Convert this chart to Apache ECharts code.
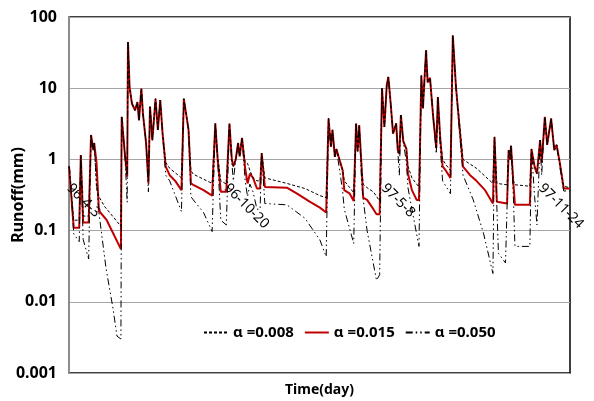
<!DOCTYPE html>
<html>
<head>
<meta charset="utf-8">
<script src="https://cdn.jsdelivr.net/npm/echarts@6/dist/echarts.min.js"></script>
<style>
  html, body { margin: 0; padding: 0; background: #fff; }
  #chart { width: 594px; height: 401px; }
</style>
</head>
<body>
<div id="chart"></div>
<script>
// day index counted from 1996-04-03
const dateLabels = ['96-4-3', '96-10-20', '97-5-8', '97-11-24']
const labelStep = 200
const lastDay = 637
const yTickLabels = ['0.001', '0.01', '0.1', '1', '10', '100']
const seriesNames = ['α =0.008', 'α =0.015', 'α =0.050']

// α = 0.008 (dashed)
const runoff008 = [
  [0, 0.8], [1, 0.75], [6, 0.14], [13, 0.14], [15, 1.15], [18, 0.16], [25, 0.16],
  [28, 2.2], [31, 1.35], [32, 1.7], [35, 0.4], [38, 0.3], [45, 0.22], [66, 0.115],
  [67, 3.95], [71, 1.2], [74, 0.6], [75, 44.6], [77, 10.4], [80, 6.1], [84, 4.9],
  [87, 6.4], [89, 3.55], [92, 9.9], [94, 4.4], [98, 1.7], [101, 0.5], [103, 5.5],
  [106, 1.86], [110, 7.1], [113, 2.6], [116, 6.8], [119, 2.3], [123, 0.9], [128, 0.75],
  [143, 0.55], [146, 7.1], [152, 2.6], [155, 0.7], [158, 0.62], [182, 0.46], [186, 3.2],
  [189, 1.1], [193, 0.5], [200, 0.45], [204, 3.2], [207, 1.0], [209, 0.8], [212, 1.0],
  [215, 1.7], [217, 1.1], [220, 2.0], [224, 0.9], [227, 0.88], [230, 0.7], [234, 0.55],
  [239, 0.5], [243, 0.5], [245, 1.22], [249, 0.55], [277, 0.46], [300, 0.39], [319, 0.31],
  [327, 0.29], [330, 3.75], [333, 1.5], [335, 2.6], [338, 1.09], [340, 1.4], [345, 0.9],
  [348, 0.7], [350, 0.5], [357, 0.4], [362, 0.34], [365, 3.2], [367, 1.3], [369, 3.0],
  [372, 0.79], [374, 0.45], [379, 0.4], [387, 0.35], [395, 0.26], [398, 9.9], [401, 2.86],
  [404, 11], [406, 14.4], [409, 6.1], [412, 2.3], [416, 3.2], [418, 1.35], [420, 1.2],
  [422, 4.2], [425, 1.8], [429, 1.4], [431, 0.8], [436, 0.55], [442, 0.45], [445, 0.41],
  [448, 15], [450, 5.2], [454, 34], [456, 12], [459, 14], [463, 4], [467, 1.44],
  [469, 7.5], [472, 2.0], [475, 1.0], [479, 0.85], [485, 0.7], [488, 55], [492, 10.4],
  [501, 1.0], [518, 0.75], [539, 0.46], [541, 2.07], [544, 0.46], [557, 0.44], [559, 1.35],
  [561, 1.0], [562, 1.55], [565, 0.5], [567, 0.44], [586, 0.42], [588, 1.4], [592, 0.79],
  [595, 0.63], [599, 1.86], [601, 0.9], [605, 3.95], [608, 1.6], [613, 3.75], [617, 1.35],
  [620, 1.6], [624, 0.9], [629, 0.42], [637, 0.4]
]

// α = 0.015 (red)
const runoff015 = [
  [0, 0.8], [1, 0.75], [6, 0.11], [13, 0.11], [15, 1.15], [18, 0.13], [25, 0.13],
  [28, 2.2], [31, 1.35], [32, 1.7], [35, 0.9], [38, 0.19], [48, 0.14], [66, 0.055],
  [67, 3.95], [71, 1.2], [74, 0.57], [75, 44.6], [77, 10.4], [80, 6.1], [84, 4.9],
  [87, 6.4], [89, 3.55], [92, 9.9], [94, 4.4], [98, 1.7], [101, 0.46], [103, 5.5],
  [106, 1.86], [110, 7.1], [113, 2.6], [116, 6.8], [119, 2.3], [123, 0.79], [128, 0.6],
  [135, 0.5], [143, 0.37], [146, 7.1], [152, 2.6], [155, 0.46], [158, 0.44], [171, 0.37],
  [182, 0.31], [186, 3.2], [189, 1.0], [193, 0.35], [200, 0.35], [204, 3.2], [207, 1.0],
  [209, 0.8], [212, 1.0], [215, 1.7], [217, 1.1], [220, 2.0], [224, 0.75], [227, 0.46],
  [230, 0.63], [234, 0.55], [239, 0.39], [243, 0.39], [245, 1.22], [249, 0.41], [277, 0.4],
  [290, 0.33], [306, 0.255], [319, 0.21], [327, 0.18], [330, 3.75], [333, 1.5], [335, 2.6],
  [338, 1.09], [340, 1.4], [345, 0.9], [348, 0.7], [350, 0.37], [357, 0.33], [362, 0.26],
  [365, 3.2], [367, 1.3], [369, 3.0], [372, 0.79], [374, 0.29], [379, 0.27], [387, 0.2],
  [391, 0.17], [395, 0.17], [398, 9.9], [401, 2.86], [404, 11], [406, 14.4], [409, 6.1],
  [412, 2.3], [416, 3.2], [418, 1.35], [420, 1.2], [422, 4.2], [425, 1.8], [429, 1.4],
  [431, 0.63], [436, 0.37], [442, 0.27], [445, 0.27], [448, 15], [450, 5.2], [454, 34],
  [456, 12], [459, 14], [463, 4], [467, 1.44], [469, 7.5], [472, 2.0], [475, 0.8],
  [479, 0.7], [485, 0.55], [488, 55], [492, 10.4], [501, 0.79], [510, 0.6], [518, 0.5],
  [529, 0.37], [539, 0.24], [541, 2.07], [544, 0.255], [557, 0.24], [559, 1.35], [561, 1.0],
  [562, 1.55], [565, 0.46], [567, 0.23], [586, 0.23], [588, 1.4], [592, 0.79], [595, 0.63],
  [599, 1.86], [601, 0.9], [605, 3.95], [608, 1.6], [613, 3.75], [617, 1.35], [620, 1.6],
  [624, 0.9], [629, 0.39], [637, 0.39]
]

// α = 0.050 (dash-dot)
const runoff050 = [
  [0, 0.8], [1, 0.7], [6, 0.09], [13, 0.07], [15, 1.15], [18, 0.075], [25, 0.04],
  [28, 2.2], [31, 1.35], [32, 1.7], [35, 0.5], [38, 0.18], [47, 0.03], [56, 0.008],
  [61, 0.0033], [66, 0.003], [67, 3.95], [71, 1.2], [74, 0.25], [75, 44.6], [77, 10.4],
  [80, 6.1], [84, 4.9], [87, 6.4], [89, 3.55], [92, 9.9], [94, 4.4], [98, 1.7],
  [101, 0.35], [103, 5.5], [106, 1.86], [110, 7.1], [113, 2.6], [116, 6.8], [119, 2.3],
  [123, 0.6], [128, 0.5], [143, 0.185], [146, 7.1], [152, 2.6], [155, 0.3], [158, 0.27],
  [171, 0.18], [182, 0.097], [186, 3.2], [189, 1.0], [193, 0.14], [200, 0.12], [204, 3.2],
  [207, 0.9], [209, 0.5], [212, 1.0], [215, 1.7], [217, 1.1], [220, 2.0], [224, 0.5],
  [227, 0.3], [230, 0.45], [234, 0.35], [239, 0.2], [243, 0.2], [245, 1.22], [249, 0.24],
  [277, 0.23], [300, 0.149], [319, 0.074], [327, 0.043], [330, 3.75], [333, 1.5], [335, 2.6],
  [338, 1.09], [340, 1.4], [345, 0.6], [348, 0.35], [350, 0.2], [362, 0.066], [365, 3.2],
  [367, 1.3], [369, 3.0], [372, 0.5], [374, 0.28], [379, 0.1], [391, 0.02], [395, 0.024],
  [398, 9.9], [401, 2.86], [404, 11], [406, 14.4], [409, 6.1], [412, 2.3], [416, 3.2],
  [418, 1.35], [420, 0.6], [422, 4.2], [425, 1.8], [429, 0.9], [431, 0.4], [436, 0.2],
  [445, 0.06], [448, 15], [450, 5.2], [454, 34], [456, 12], [459, 14], [463, 4],
  [467, 1.2], [469, 7.5], [472, 1.5], [475, 0.5], [485, 0.33], [488, 55], [492, 10.4],
  [501, 0.6], [514, 0.27], [527, 0.092], [539, 0.025], [541, 2.07], [546, 0.048], [555, 0.035],
  [559, 1.35], [561, 1.0], [562, 1.55], [565, 0.3], [567, 0.06], [586, 0.06], [588, 1.4],
  [592, 0.3], [595, 0.12], [599, 1.86], [601, 0.6], [605, 3.95], [608, 1.6], [613, 3.75],
  [617, 1.35], [620, 1.6], [624, 0.8], [629, 0.36], [637, 0.36]
]

const chart = echarts.init(document.getElementById('chart'), null, { renderer: 'canvas' })

const font = "'Noto Sans', 'Liberation Sans', sans-serif"

const option = {
  backgroundColor: '#fff',
  animation: false,
  textStyle: { fontFamily: font },
  grid: {
    left: 69,
    right: 24,
    top: 17,
    bottom: 28,
    containLabel: false,
    outerBoundsMode: 'none',
    show: true,
    borderColor: '#000',
    borderWidth: 1.5,
  },
  // y axis title, placed by hand left of the tick labels
  graphic: [
    {
      type: 'text',
      x: 18,
      y: 195,
      rotation: Math.PI / 2,
      style: {
        text: 'Runoff(mm)',
        fill: '#000',
        font: "bold 16px 'Noto Sans', sans-serif",
        align: 'center',
        verticalAlign: 'middle',
      },
    },
  ],
  legend: {
    data: seriesNames,
    top: 320,
    left: 198,
    itemWidth: 24,
    itemHeight: 10,
    itemGap: 10,
    itemStyle: { color: 'transparent', borderColor: 'transparent', borderWidth: 0 },
    textStyle: { fontSize: 15, fontWeight: 'bold', color: '#000', fontFamily: font },
  },
  xAxis: [
    {
      // the date labels sit on the value 1 line, as in the original
      type: 'value',
      min: 0,
      max: lastDay,
      interval: labelStep,
      offset: -213,
      axisLine: { show: false },
      axisTick: { show: false },
      splitLine: { show: false },
      axisLabel: {
        rotate: -45,
        margin: 26,
        fontSize: 14,
        color: '#000',
        showMaxLabel: false,
        formatter: function (v) {
          if (v % labelStep !== 0) return ''
          return dateLabels[v / labelStep] || ''
        },
      },
    },
    {
      type: 'value',
      min: 0,
      max: lastDay,
      position: 'bottom',
      axisLine: { show: false },
      axisTick: { show: false },
      axisLabel: { show: false },
      splitLine: { show: false },
      name: 'Time(day)',
      nameLocation: 'middle',
      nameGap: 10,
      nameTextStyle: { fontSize: 14, fontWeight: 'bold', color: '#000' },
    },
  ],
  yAxis: {
    type: 'log',
    logBase: 10,
    min: 0.001,
    max: 100,
    axisLine: { show: true, lineStyle: { color: '#8c8c8c', width: 2 } },
    axisTick: { show: false },
    axisLabel: {
      fontSize: 16,
      fontWeight: 'bold',
      color: '#000',
      margin: 12,
      formatter: function (v) {
        return yTickLabels[Math.round(Math.log10(v)) + 3]
      },
    },
    splitLine: { show: true, lineStyle: { color: '#a6a6a6', width: 1 } },
  },
  series: [
    {
      name: seriesNames[0],
      type: 'line',
      data: runoff008,
      symbol: 'none',
      z: 4,
      lineStyle: { color: '#000', width: 1, type: [3, 2] },
      itemStyle: { color: '#000' },
    },
    {
      name: seriesNames[1],
      type: 'line',
      data: runoff015,
      symbol: 'none',
      z: 2,
      lineStyle: { color: '#c00000', width: 2 },
      itemStyle: { color: '#c00000' },
    },
    {
      name: seriesNames[2],
      type: 'line',
      data: runoff050,
      symbol: 'none',
      z: 3,
      lineStyle: { color: '#000', width: 1, type: [7, 3, 1.5, 3, 1.5, 3] },
      itemStyle: { color: '#000' },
    },
  ],
}

chart.setOption(option)
</script>
</body>
</html>
